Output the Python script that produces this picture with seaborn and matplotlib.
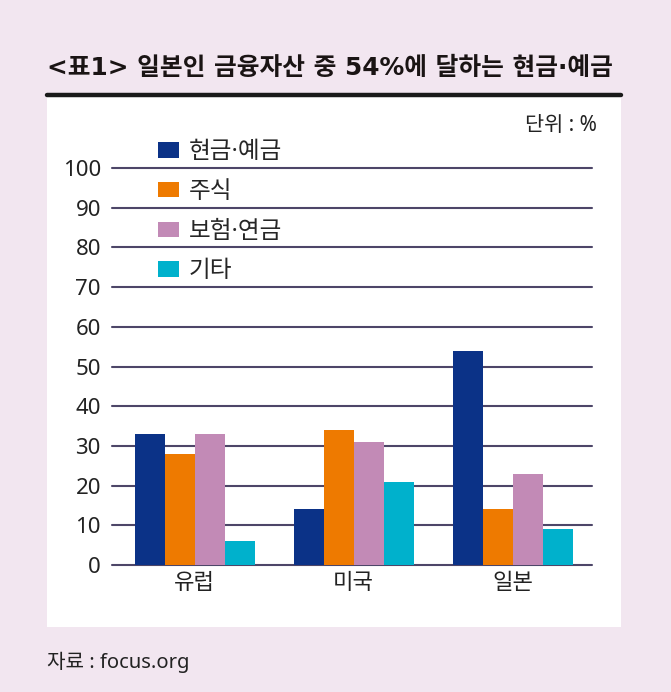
import numpy as np
import pandas as pd
import matplotlib
matplotlib.use("Agg")
import matplotlib.pyplot as plt
import seaborn as sns
from matplotlib.patches import Rectangle
from matplotlib.lines import Line2D

# data (unit: %)
regions = ["유럽", "미국", "일본"]
series = ["현금·예금", "주식", "보험·연금", "기타"]
cash = [33, 14, 54]
stocks = [28, 34, 14]
insurance = [33, 31, 23]
other = [6, 21, 9]
yticks = list(range(0, 101, 10))
colors = ["#0b3287", "#ee7a00", "#c28ab6", "#00b1cc"]

df = pd.DataFrame({
    "region": regions * 4,
    "kind": sum([[s] * 3 for s in series], []),
    "value": cash + stocks + insurance + other,
})

sns.set_theme(style="white")
# Noto Sans first so the middle dot stays narrow, hangul falls back to CJK
plt.rcParams["font.family"] = ["Noto Sans", "Noto Sans CJK KR", "DejaVu Sans"]

bg = "#f2e6f0"
fig = plt.figure(figsize=(6.71, 6.92), dpi=100, facecolor=bg)

# white panel and title rule
fig.patches.append(Rectangle((0.070, 0.094), 0.855, 0.766, transform=fig.transFigure,
                             facecolor="white", edgecolor="none", zorder=-5))
fig.lines.append(Line2D([0.070, 0.925], [0.8625, 0.8625], transform=fig.transFigure,
                        color="#1a1a1a", linewidth=3.2, zorder=-4))

fig.text(0.070, 0.902, "<표1> 일본인 금융자산 중 54%에 달하는 현금·예금",
         fontsize=17.8, fontweight="bold", color="#1a1414", va="center", ha="left",
         family=["DejaVu Sans", "Noto Sans CJK KR"])
fig.text(0.889, 0.818, "단위 : %", fontsize=15, color="#222222", ha="right", va="center")
fig.text(0.070, 0.043, "자료 : focus.org", fontsize=14.5, color="#222222", ha="left", va="center")

ax = fig.add_axes([0.1669, 0.1835, 0.7154, 0.5737])
ax.set_facecolor("none")
sns.barplot(data=df, x="region", y="value", hue="kind", order=regions, hue_order=series,
            palette=colors, width=0.755, gap=0, linewidth=0, saturation=1, ax=ax, zorder=3)

ax.set_ylim(0, 100)
ax.set_xlim(-0.52, 2.5)
ax.set_yticks(yticks)
ax.set_yticklabels([str(t) for t in yticks])
for t in yticks:
    ax.axhline(t, color="#4d4668", linewidth=1.5, zorder=1, clip_on=False)
for s in ax.spines.values():
    s.set_visible(False)
ax.tick_params(axis="both", length=0, labelsize=16, colors="#222222")
ax.tick_params(axis="y", pad=8)
ax.tick_params(axis="x", pad=6)
ax.set_xlabel("")
ax.set_ylabel("")

handles, labels = ax.get_legend_handles_labels()
ax.legend(handles, labels, loc="upper left", bbox_to_anchor=(0.235, 0.797),
          bbox_transform=fig.transFigure, frameon=False, fontsize=17,
          handlelength=0.92, handleheight=0.63, handletextpad=0.4, labelspacing=0.66,
          borderaxespad=0, borderpad=0)

fig.savefig("out.png", dpi=100, facecolor=bg)
